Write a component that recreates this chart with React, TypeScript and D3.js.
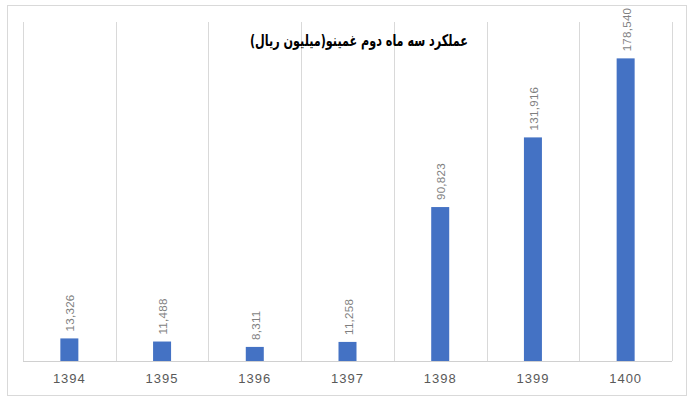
import { useEffect, useRef } from 'react'
import * as d3 from 'd3'

const years = ['1394', '1395', '1396', '1397', '1398', '1399', '1400']
const values = [13326, 11488, 8311, 11258, 90823, 131916, 178540]
const title = 'عملکرد سه ماه دوم غمینو(میلیون ریال)'

export default function App() {
  const svgRef = useRef<SVGSVGElement>(null)

  useEffect(() => {
    if (!svgRef.current) return
    const width = 700
    const height = 400
    const left = 23
    const right = 672
    const top = 22
    const bottom = 361

    const svg = d3.select(svgRef.current)
    svg.selectAll('*').remove()

    svg.append('rect')
      .attr('x', 0).attr('y', 0).attr('width', width).attr('height', height)
      .attr('fill', 'white')

    // outer chart border
    svg.append('rect')
      .attr('x', 7.5).attr('y', 5.5).attr('width', 679).attr('height', 390)
      .attr('fill', 'none').attr('stroke', '#d9d9d9')

    const x = d3.scaleBand().domain(years).range([left, right]).paddingInner(0).paddingOuter(0)
    const y = d3.scaleLinear().domain([0, 200000]).range([bottom, top])

    // vertical gridlines between categories
    const edges = years.map(d => x(d)!).concat([right])
    svg.append('g')
      .selectAll('line')
      .data(edges)
      .join('line')
      .attr('x1', d => Math.round(d) + 0.5)
      .attr('x2', d => Math.round(d) + 0.5)
      .attr('y1', top)
      .attr('y2', bottom)
      .attr('stroke', '#d9d9d9')

    // baseline
    svg.append('line')
      .attr('x1', left).attr('x2', right)
      .attr('y1', bottom + 0.5).attr('y2', bottom + 0.5)
      .attr('stroke', '#d0d0d0')

    const barW = 18
    svg.append('g')
      .selectAll('rect')
      .data(values)
      .join('rect')
      .attr('x', (d, i) => x(years[i])! + x.bandwidth() / 2 - barW / 2)
      .attr('y', d => y(d))
      .attr('width', barW)
      .attr('height', d => bottom - y(d))
      .attr('fill', '#4472c4')

    // value labels, rotated
    svg.append('g')
      .selectAll('text')
      .data(values)
      .join('text')
      .attr('transform', (d, i) => `translate(${x(years[i])! + x.bandwidth() / 2 + 5},${y(d) - 7}) rotate(-90)`)
      .attr('text-anchor', 'start')
      .style('font', '11.5px "Liberation Sans", Arial, sans-serif')
      .style('letter-spacing', '0.3px')
      .attr('fill', '#7f7f7f')
      .text(d => d3.format(',')(d))

    // category labels
    svg.append('g')
      .selectAll('text')
      .data(years)
      .join('text')
      .attr('x', d => x(d)! + x.bandwidth() / 2)
      .attr('y', 383)
      .attr('text-anchor', 'middle')
      .style('font', '13px "Liberation Sans", Arial, sans-serif')
      .style('letter-spacing', '1px')
      .attr('fill', '#595959')
      .text(d => d)

    svg.append('text')
      .attr('x', 359)
      .attr('y', 46)
      .attr('text-anchor', 'middle')
      .attr('direction', 'rtl')
      .attr('textLength', 218)
      .attr('lengthAdjust', 'spacingAndGlyphs')
      .style('font', 'bold 16px "DejaVu Sans", sans-serif')
      .attr('fill', '#000')
      .text(title)
  }, [])

  return (
    <svg
      ref={svgRef}
      width={700}
      height={400}
      style={{ position: 'absolute', left: 0, top: 0 }}
    />
  )
}
